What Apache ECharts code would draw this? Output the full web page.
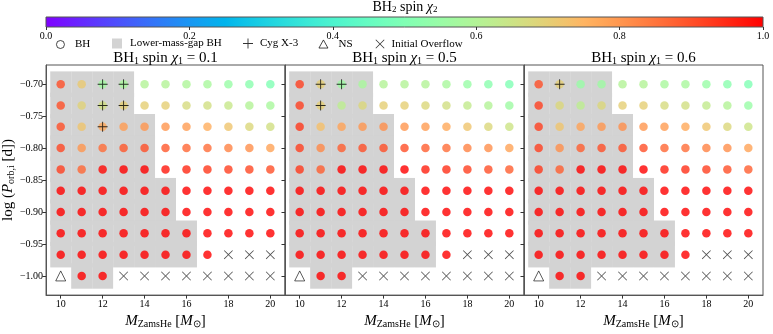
<!DOCTYPE html>
<html>
<head>
<meta charset="utf-8">
<script src="https://cdn.jsdelivr.net/npm/echarts@6/dist/echarts.min.js"></script>
<style>
  html, body { margin: 0; padding: 0; background: #fff; }
  #chart { width: 773px; height: 334px; }
</style>
</head>
<body>
<div id="chart"></div>
<script>
// grid of models: He-star ZAMS mass and initial orbital period
var masses = [10, 11, 12, 13, 14, 15, 16, 17, 18, 19, 20];
var logP = [-0.7, -0.7333, -0.7667, -0.8, -0.8333, -0.8667, -0.9, -0.9333, -0.9667, -1.0]; // rows, top -> bottom
var spin1 = ['0.1', '0.5', '0.6'];

// BH2 spin chi2 for each panel (rows top -> bottom, columns = masses), null = no BH
var chi2Spin01 = [
  [0.90, 0.71, 0.57, 0.58, 0.60, 0.60, 0.59, 0.58, 0.55, 0.52, 0.50],
  [0.90, 0.69, 0.66, 0.70, 0.70, 0.70, 0.67, 0.66, 0.64, 0.60, 0.58],
  [0.90, 0.72, 0.77, 0.79, 0.80, 0.80, 0.79, 0.76, 0.72, 0.68, 0.66],
  [0.91, 0.80, 0.86, 0.89, 0.90, 0.89, 0.87, 0.86, 0.83, 0.81, 0.78],
  [0.92, 0.87, 0.99, 1.00, 1.00, 0.97, 0.95, 0.93, 0.92, 0.91, 0.90],
  [1, 1, 1, 1, 1, 1, 1, 1, 1, 1, 1],
  [1, 1, 1, 1, 1, 1, 1, 1, 1, 1, 1],
  [1, 1, 1, 1, 1, 1, 1, 1, 1, 1, 1],
  [1, 1, 1, 1, 1, 1, 1, 1, null, null, null],
  [null, 1, 1, null, null, null, null, null, null, null, null]
];
var chi2Spin05 = [
  [0.92, 0.70, 0.56, 0.58, 0.60, 0.60, 0.60, 0.58, 0.55, 0.52, 0.50],
  [0.92, 0.70, 0.62, 0.68, 0.70, 0.70, 0.68, 0.66, 0.63, 0.60, 0.56],
  [0.93, 0.73, 0.78, 0.80, 0.81, 0.80, 0.79, 0.77, 0.72, 0.68, 0.65],
  [0.92, 0.82, 0.88, 0.90, 0.90, 0.90, 0.88, 0.86, 0.83, 0.81, 0.78],
  [0.93, 0.88, 1.00, 1.00, 1.00, 1.00, 0.96, 0.94, 0.92, 0.90, 0.88],
  [1, 1, 1, 1, 1, 1, 1, 1, 1, 1, 1],
  [1, 1, 1, 1, 1, 1, 1, 1, 1, 1, 1],
  [1, 1, 1, 1, 1, 1, 1, 1, 1, 1, 1],
  [1, 1, 1, 1, 1, 1, 1, 1, null, null, null],
  [null, 1, 1, null, null, null, null, null, null, null, null]
];
var chi2Spin06 = [
  [0.90, 0.70, 0.55, 0.56, 0.60, 0.60, 0.58, 0.58, 0.55, 0.52, 0.50],
  [0.92, 0.68, 0.62, 0.68, 0.70, 0.70, 0.67, 0.66, 0.63, 0.60, 0.55],
  [0.92, 0.72, 0.78, 0.80, 0.81, 0.80, 0.79, 0.77, 0.72, 0.68, 0.65],
  [0.92, 0.81, 0.88, 0.90, 0.90, 0.90, 0.87, 0.86, 0.83, 0.81, 0.78],
  [0.93, 0.88, 1.00, 1.00, 1.00, 1.00, 0.96, 0.94, 0.92, 0.90, 0.88],
  [1, 1, 1, 1, 1, 1, 1, 1, 1, 1, 1],
  [1, 1, 1, 1, 1, 1, 1, 1, 1, 1, 1],
  [1, 1, 1, 1, 1, 1, 1, 1, 1, 1, 1],
  [1, 1, 1, 1, 1, 1, 1, 1, null, null, null],
  [null, 1, 1, null, null, null, null, null, null, null, null]
];
var chi2Panels = [chi2Spin01, chi2Spin05, chi2Spin06];

// lower-mass-gap BH: mass range [from, to] per row (top -> bottom), same in all panels
var gapRanges = [[10, 13], [10, 13], [10, 14], [10, 14], [10, 14], [10, 15], [10, 15], [10, 16], [10, 16], [11, 12]];

// Cyg X-3 like systems [mass, logP]
var cygPanels = [
  [[12, -0.7], [13, -0.7], [12, -0.7333], [13, -0.7333], [12, -0.7667]],
  [[11, -0.7], [12, -0.7], [11, -0.7333]],
  [[11, -0.7]]
];
var nsPoints = [[10, -1.0]];
var overflowPoints = [[18, -0.9667], [19, -0.9667], [20, -0.9667],
  [13, -1.0], [14, -1.0], [15, -1.0], [16, -1.0], [17, -1.0], [18, -1.0], [19, -1.0], [20, -1.0]];

var xTicks = [10, 12, 14, 16, 18, 20];
var yTicks = [-1.0, -0.95, -0.9, -0.85, -0.8, -0.75, -0.7];

// matplotlib 'rainbow' colormap
function rainbow(t) {
  var r = Math.min(1, Math.abs(2 * t - 0.5)), g = Math.sin(Math.PI * t), b = Math.cos(Math.PI * t / 2);
  return 'rgb(' + Math.round(r * 255) + ',' + Math.round(g * 255) + ',' + Math.round(b * 255) + ')';
}
var cmap = [], stops = [];
for (var k = 0; k <= 40; k++) {
  cmap.push(rainbow(k / 40));
  stops.push({offset: k / 40, color: rainbow(k / 40)});
}

var FONT = 'Liberation Serif';
var PLUS = 'path://M4.55,0H5.45V4.55H10V5.45H5.45V10H4.55V5.45H0V4.55H4.55Z';
var CROSS = 'path://M0,0.6L0.6,0L5,4.4L9.4,0L10,0.6L5.6,5L10,9.4L9.4,10L5,5.6L0.6,10L0,9.4L4.4,5Z';
var TRI = 'path://M5,0L10,9L0,9Z';
function richSet(size, sub) {
  return {
    n: {fontFamily: FONT, fontSize: size, fontWeight: 'normal', color: '#000'},
    i: {fontFamily: FONT, fontSize: size, fontStyle: 'italic', fontWeight: 'normal', color: '#000'},
    s: {fontFamily: FONT, fontSize: sub, fontWeight: 'normal', verticalAlign: 'bottom', lineHeight: sub + 2, color: '#000'}
  };
}
var rich = richSet(15, 10);
function minus(v) { return (v < 0 ? '\u2212' : '') + Math.abs(v).toFixed(2); }

var panelLeft = [46, 285, 524], panelW = 239, panelTop = 65, panelH = 238;
var grids = [], xAxes = [], yAxes = [], series = [], titles = [], bhIdx = [];

titles.push({
  text: '{n|BH}{s|2}{n| spin }{i|\u03c7}{s|2}', left: 405, top: 0, textAlign: 'center', padding: 0,
  textStyle: {fontFamily: FONT, fontSize: 14, fontWeight: 'normal', color: '#000', rich: richSet(14, 9)}
});

// colorbar
grids.push({left: 46, width: 717, top: 17, height: 10, show: true, borderColor: '#555', borderWidth: 1,
  backgroundColor: {type: 'linear', x: 0, y: 0, x2: 1, y2: 0, colorStops: stops}});
xAxes.push({type: 'value', gridIndex: 0, min: 0, max: 1, interval: 0.2,
  axisLine: {show: false}, splitLine: {show: false},
  axisTick: {length: 3, lineStyle: {color: '#333'}},
  axisLabel: {fontFamily: FONT, fontSize: 10, color: '#000', margin: 4, formatter: function (v) { return v.toFixed(1); }}});
yAxes.push({type: 'value', gridIndex: 0, show: false, min: 0, max: 1});

for (var p = 0; p < 3; p++) {
  var gi = p + 1;
  grids.push({left: panelLeft[p], width: panelW, top: panelTop, height: panelH, show: true, borderColor: '#555', borderWidth: 1, backgroundColor: 'transparent'});
  xAxes.push({type: 'value', gridIndex: gi, min: 9.3, max: 20.7,
    name: '{i|M}{s|ZamsHe}{n| [}{i|M}{s|\u2299}{n|]}', nameLocation: 'middle', nameGap: 12,
    nameTextStyle: {fontFamily: FONT, fontSize: 15, color: '#000', rich: rich},
    axisLine: {lineStyle: {color: '#555'}}, splitLine: {show: false},
    axisTick: {length: 3.5, customValues: xTicks, lineStyle: {color: '#333'}},
    axisLabel: {customValues: xTicks, fontFamily: FONT, fontSize: 10, color: '#000', margin: 4}});
  yAxes.push({type: 'value', gridIndex: gi, min: -1.03, max: -0.67,
    name: p === 0 ? '{n|log (}{i|P}{s|orb,i}{n| [d])}' : '', nameLocation: 'middle', nameGap: 25, nameRotate: 90,
    nameTextStyle: {fontFamily: FONT, fontSize: 15, color: '#000', rich: rich},
    axisLine: {lineStyle: {color: '#555'}}, splitLine: {show: false},
    axisTick: {length: 3.5, customValues: yTicks, lineStyle: {color: '#333'}},
    axisLabel: {show: p === 0, customValues: yTicks, fontFamily: FONT, fontSize: 10, color: '#000', margin: 3, formatter: minus}});

  titles.push({
    text: '{n|BH}{s|1}{n| spin }{i|\u03c7}{s|1}{n| = ' + spin1[p] + '}',
    left: panelLeft[p] + panelW / 2, top: 51, textAlign: 'center', padding: 0,
    textStyle: {fontFamily: FONT, fontSize: 15, fontWeight: 'normal', color: '#000', rich: rich}
  });

  var gapData = [];
  gapRanges.forEach(function (rg, r) {
    for (var m = rg[0]; m <= rg[1]; m++) gapData.push([m, logP[r]]);
  });
  series.push({
    name: 'Lower-mass-gap BH', type: 'custom', xAxisIndex: gi, yAxisIndex: gi, z: 1,
    encode: {x: 0, y: 1}, data: gapData, itemStyle: {color: '#d3d3d3'},
    renderItem: function (params, api) {
      var c = api.coord([api.value(0), api.value(1)]);
      var s = api.size([1, 0.04]);
      return {type: 'rect', shape: {x: c[0] - s[0] / 2, y: c[1] - s[1] / 2, width: s[0], height: s[1]},
        style: {fill: '#d3d3d3'}};
    }
  });

  var bhData = [];
  chi2Panels[p].forEach(function (row, r) {
    row.forEach(function (v, c) { if (v !== null) bhData.push([masses[c], logP[r], v]); });
  });
  bhIdx.push(series.length);
  series.push({name: 'BH', type: 'scatter', xAxisIndex: gi, yAxisIndex: gi, z: 3,
    symbol: 'circle', symbolSize: 8.5, data: bhData});
  series.push({name: 'Cyg X-3', type: 'scatter', xAxisIndex: gi, yAxisIndex: gi, z: 4,
    symbol: PLUS, symbolSize: 10, itemStyle: {color: '#000'}, data: cygPanels[p]});
  series.push({name: 'NS', type: 'scatter', xAxisIndex: gi, yAxisIndex: gi, z: 4,
    symbol: 'triangle', symbolSize: 10, itemStyle: {color: '#fff', borderColor: '#000', borderWidth: 0.8}, data: nsPoints});
  series.push({name: 'Initial Overflow', type: 'scatter', xAxisIndex: gi, yAxisIndex: gi, z: 4,
    symbol: CROSS, symbolSize: 9, itemStyle: {color: '#222'}, data: overflowPoints});
}

// one legend per entry so each sits where the reference puts it (icon centre, extra text gap)
function legendItem(item, center, size, pad) {
  return {
    left: center - size / 2, top: 43 - size / 2, padding: 0, itemWidth: size, itemHeight: size, selectedMode: false,
    textStyle: {fontFamily: FONT, fontSize: 11, color: '#000', padding: [0, 0, 0, pad]}, data: [item]
  };
}
var legends = [
  legendItem({name: 'BH', icon: 'circle', itemStyle: {color: '#fff', borderColor: '#000', borderWidth: 0.9}}, 60, 8, 5.5),
  legendItem({name: 'Lower-mass-gap BH', icon: 'rect', itemStyle: {color: '#d3d3d3'}}, 117, 10, 3),
  legendItem({name: 'Cyg X-3', icon: PLUS, itemStyle: {color: '#000'}}, 248, 10, 2),
  legendItem({name: 'NS', icon: TRI, itemStyle: {color: '#fff', borderColor: '#000', borderWidth: 0.9}}, 323, 9, 5.5),
  legendItem({name: 'Initial Overflow', icon: CROSS, itemStyle: {color: '#000'}}, 380, 9, 2)
];

var chart = echarts.init(document.getElementById('chart'));
chart.setOption({
  animation: false,
  backgroundColor: '#fff',
  title: titles,
  grid: grids,
  xAxis: xAxes,
  yAxis: yAxes,
  visualMap: {type: 'continuous', show: false, min: 0, max: 1, dimension: 2, seriesIndex: bhIdx, inRange: {color: cmap}},
  legend: legends,
  series: series
});
</script>
</body>
</html>
